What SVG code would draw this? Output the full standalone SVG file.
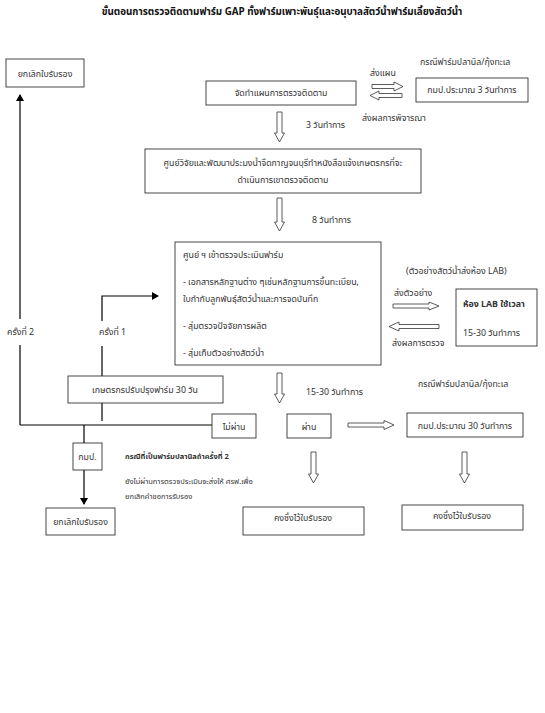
<svg xmlns="http://www.w3.org/2000/svg" width="545" height="713" viewBox="0 0 545 713">
<style>
text{font-family:"Noto Sans Thai","Noto Sans","DejaVu Sans","Liberation Sans",sans-serif;font-size:8.8px;fill:#333}
.b{fill:#fff;stroke:#333;stroke-width:0.9}
.blk{fill:#fff;stroke:#333;stroke-width:0.8}
.ln{fill:none;stroke:#000;stroke-width:1.2}
.c{text-anchor:middle}
.sm{font-size:7.5px}
.bd{font-weight:bold}
.ttl{font-size:9.8px;fill:#111}
</style>
<defs>
<marker id="ah" markerWidth="8" markerHeight="8" refX="6" refY="4" orient="auto" markerUnits="userSpaceOnUse">
<path d="M0,0 L7,4 L0,8 z" fill="#000"/>
</marker>
</defs>
<rect width="545" height="713" fill="#fff"/>
<text class="c bd ttl" x="282" y="15">ขั้นตอนการตรวจติดตามฟาร์ม GAP ทั้งฟาร์มเพาะพันธุ์และอนุบาลสัตว์น้ำฟาร์มเลี้ยงสัตว์น้ำ</text>

<g id="connectors">
<line class="ln" x1="20" y1="425" x2="20" y2="345"/>
<line class="ln" x1="20" y1="319" x2="20" y2="95" marker-end="url(#ah)"/>
<line class="ln" x1="20" y1="425" x2="212" y2="425"/>
<polyline class="ln" points="102,376 102,346"/>
<polyline class="ln" points="102,321 102,296 158,296" marker-end="url(#ah)"/>
<line class="ln" x1="102" y1="403" x2="102" y2="421"/>
<line class="ln" x1="84" y1="425" x2="84" y2="504" marker-end="url(#ah)"/>
<polygon class="blk" points="277,112 282,112 282,133 284.5,133 279.5,142 274.5,133 277,133"/>
<polygon class="blk" points="277,198 282,198 282,222 284.5,222 279.5,231 274.5,222 277,222"/>
<polygon class="blk" points="277,373 282,373 282,394 284.5,394 279.5,403 274.5,394 277,394"/>
<polygon class="blk" points="311,452 316,452 316,474 318.5,474 313.5,483 308.5,474 311,474"/>
<polygon class="blk" points="462,452 467,452 467,474 469.5,474 464.5,483 459.5,474 462,474"/>
<polygon class="blk" points="372,84.5 394,84.5 394,82 403,86.5 394,91 394,88.5 372,88.5"/>
<polygon class="blk" points="402,93.5 379,93.5 379,91 370,95.5 379,100 379,97.5 402,97.5"/>
<polygon class="blk" points="393,304 429,304 429,302 439,306 429,310 429,308 393,308"/>
<polygon class="blk" points="439,324.5 399,324.5 399,322 389,326.5 399,331 399,328.5 439,328.5"/>
<polygon class="blk" points="348,423 384,423 384,420.5 394,425 384,429.5 384,427 348,427"/>
</g>

<g id="n-cancel-top"><rect class="b" x="6" y="59" width="78" height="28"/><text class="c" x="45" y="77">ยกเลิกใบรับรอง</text></g>
<g id="n-plan"><rect class="b" x="206" y="81" width="150" height="24"/><text class="c" x="281" y="96">จัดทำแผนการตรวจติดตาม</text></g>
<g id="n-dof3"><rect class="b" x="416" y="78" width="112" height="24"/><text class="c" x="472" y="93">กมป.ประมาณ 3 วันทำการ</text></g>
<g id="n-notify"><rect class="b" x="145" y="149" width="276" height="44"/>
<text class="c" x="283" y="166">ศูนย์วิจัยและพัฒนาประมงน้ำจืดกาญจนบุรีทำหนังสือแจ้งเกษตรกรที่จะ</text>
<text class="c" x="283" y="183">ดำเนินการเขาตรวจติดตาม</text></g>
<g id="n-inspect"><rect class="b" x="175" y="242" width="206" height="123"/>
<text x="183" y="258">ศูนย์ ฯ เข้าตรวจประเมินฟาร์ม</text>
<text x="183" y="285">- เอกสารหลักฐานต่าง ๆเช่นหลักฐานการขึ้นทะเบียน,</text>
<text x="183" y="302">ใบกำกับลูกพันธุ์สัตว์น้ำและการจดบันทึก</text>
<text x="183" y="329">- สุ่มตรวจปัจจัยการผลิต</text>
<text x="183" y="356">- สุ่มเก็บตัวอย่างสัตว์น้ำ</text></g>
<g id="n-lab"><rect class="b" x="456" y="289" width="81" height="57"/>
<text class="bd" x="463" y="307">ห้อง LAB ใช้เวลา</text>
<text x="463" y="336">15-30 วันทำการ</text></g>
<g id="n-improve"><rect class="b" x="68" y="376" width="155" height="27"/><text class="c" x="145" y="393">เกษตรกรปรับปรุงฟาร์ม 30 วัน</text></g>
<g id="n-fail"><rect class="b" x="212" y="414" width="44" height="24"/><text class="c" x="234" y="430">ไม่ผ่าน</text></g>
<g id="n-pass"><rect class="b" x="287" y="414" width="44" height="24"/><text class="c" x="309" y="430">ผ่าน</text></g>
<g id="n-dof30"><rect class="b" x="407" y="413" width="116" height="24"/><text class="c" x="465" y="429">กมป.ประมาณ 30 วันทำการ</text></g>
<g id="n-dof"><rect class="b" x="73" y="443" width="29" height="27"/><text class="c" x="87.5" y="460">กมป.</text></g>
<g id="n-cancel-bottom"><rect class="b" x="46" y="508" width="69" height="27"/><text class="c" x="80.5" y="525">ยกเลิกใบรับรอง</text></g>
<g id="n-keep1"><rect class="b" x="243" y="507" width="121" height="28"/><text class="c" x="303" y="521">คงซึ่งไว้ใบรับรอง</text></g>
<g id="n-keep2"><rect class="b" x="402" y="505" width="121" height="25"/><text class="c" x="462" y="519">คงซึ่งไว้ใบรับรอง</text></g>

<g id="labels">
<text x="370" y="76">ส่งแผน</text>
<text x="420" y="65">กรณีฟาร์มปลานิล/กุ้งทะเล</text>
<text x="362" y="121">ส่งผลการพิจารณา</text>
<text x="306" y="128">3 วันทำการ</text>
<text x="312" y="223">8 วันทำการ</text>
<text x="406" y="274">(ตัวอย่างสัตว์น้ำส่งห้อง LAB)</text>
<text x="394" y="296">ส่งตัวอย่าง</text>
<text x="392" y="346">ส่งผลการตรวจ</text>
<text x="7" y="335">ครั้งที่ 2</text>
<text x="99" y="335">ครั้งที่ 1</text>
<text x="306" y="395">15-30 วันทำการ</text>
<text x="418" y="387">กรณีฟาร์มปลานิล/กุ้งทะเล</text>
<text class="bd sm" x="125" y="459">กรณีที่เป็นฟาร์มปลานิลถ้าครั้งที่ 2</text>
<text class="sm" x="125" y="484">ยังไม่ผ่านการตรวจประเมินจะส่งให้ ศรฟ.เพื่อ</text>
<text class="sm" x="125" y="499">ยกเลิกคำขอการรับรอง</text>
</g>
</svg>
